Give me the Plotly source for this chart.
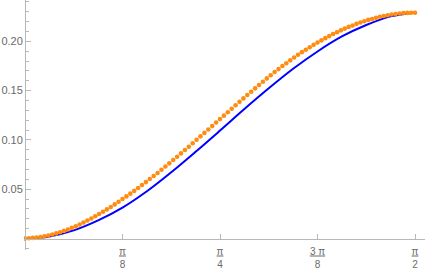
import math
import plotly.graph_objects as go

# Blue curve: values read at t = k*pi/32, k = 0..16
curve_steps = 32
curve_values = [0.0, 0.0020, 0.0082, 0.0183, 0.0313, 0.0479, 0.0672, 0.0880,
                0.1095, 0.1313, 0.1523, 0.1721, 0.1897, 0.2049, 0.2165, 0.2253, 0.2290]
curve_x = [k * math.pi / curve_steps for k in range(len(curve_values))]

# Orange points: values read at t = i*pi/200, i = 0..100
dot_steps = 200
dot_values = [
    0.0000, 0.0002, 0.0006, 0.0010, 0.0016, 0.0022, 0.0030, 0.0041, 0.0052, 0.0064,
    0.0077, 0.0092, 0.0108, 0.0124, 0.0142, 0.0162, 0.0182, 0.0203, 0.0225, 0.0248,
    0.0271, 0.0295, 0.0320, 0.0346, 0.0373, 0.0400, 0.0427, 0.0455, 0.0483, 0.0512,
    0.0542, 0.0572, 0.0604, 0.0634, 0.0665, 0.0697, 0.0730, 0.0762, 0.0796, 0.0829,
    0.0863, 0.0898, 0.0931, 0.0966, 0.1002, 0.1036, 0.1071, 0.1105, 0.1140, 0.1176,
    0.1211, 0.1246, 0.1281, 0.1316, 0.1352, 0.1386, 0.1421, 0.1455, 0.1489, 0.1523,
    0.1557, 0.1590, 0.1624, 0.1656, 0.1688, 0.1718, 0.1749, 0.1778, 0.1807, 0.1836,
    0.1863, 0.1890, 0.1915, 0.1940, 0.1964, 0.1988, 0.2010, 0.2032, 0.2053, 0.2074,
    0.2092, 0.2111, 0.2129, 0.2146, 0.2161, 0.2177, 0.2191, 0.2204, 0.2217, 0.2227,
    0.2238, 0.2249, 0.2257, 0.2264, 0.2272, 0.2277, 0.2282, 0.2286, 0.2288, 0.2289,
    0.2290]
dot_x = [i * math.pi / dot_steps for i in range(len(dot_values))]

x_tick_vals = [math.pi / 8, math.pi / 4, 3 * math.pi / 8, math.pi / 2]
x_tick_text = ["<u>π</u><br>8", "<u>π</u><br>4", "<u>3 π</u><br>8", "<u>π</u><br>2"]
y_tick_vals = [0.05, 0.10, 0.15, 0.20]
y_tick_text = ["0.05", "0.10", "0.15", "0.20"]
y_minor_vals = [k / 100 for k in range(-1, 25) if k % 5 != 0]

AXIS = "#b8b8b8"
LABEL = "#6a6a6a"

fig = go.Figure()
fig.add_trace(go.Scatter(x=curve_x, y=curve_values, mode="lines",
                         line=dict(color="#0000ff", width=2, shape="spline"),
                         showlegend=False, hoverinfo="skip"))
fig.add_trace(go.Scatter(x=dot_x, y=dot_values, mode="markers",
                         marker=dict(color="#ff8c10", size=4.6, line=dict(width=0)),
                         showlegend=False, hoverinfo="skip"))

fig.update_layout(
    width=425, height=271,
    margin=dict(l=24, r=0, t=0, b=21, pad=0, autoexpand=False),
    paper_bgcolor="white", plot_bgcolor="white",
    font=dict(family="Liberation Sans, Arial, sans-serif", size=10, color=LABEL),
    xaxis=dict(range=[-0.004, 1.611], showgrid=False, zeroline=False,
               showline=True, linecolor=AXIS, linewidth=1,
               ticks="inside", ticklen=5, tickcolor=AXIS, tickwidth=1,
               tickmode="array", tickvals=x_tick_vals, ticktext=x_tick_text,
               tickfont=dict(size=10, color=LABEL), automargin=False,
               ticklabeloverflow="allow", ticklabelstandoff=3,
               anchor="free", position=0.046),
    yaxis=dict(range=[-0.01166, 0.2419], showgrid=False, zeroline=False,
               showline=True, linecolor=AXIS, linewidth=1,
               ticks="inside", ticklen=5, tickcolor=AXIS, tickwidth=1,
               tickmode="array", tickvals=y_tick_vals, ticktext=y_tick_text,
               tickfont=dict(size=11, color=LABEL), automargin=False,
               ticklabeloverflow="allow",
               minor=dict(ticks="inside", ticklen=3, tickcolor=AXIS,
                          tickmode="array", tickvals=y_minor_vals),
               anchor="free", position=0.0025),
)

fig.write_html("out.html",
               config={"displayModeBar": False, "staticPlot": True},
               post_script="document.body.style.margin='0px';"
                           "document.body.style.padding='0px';"
                           "document.body.style.overflow='hidden';")
